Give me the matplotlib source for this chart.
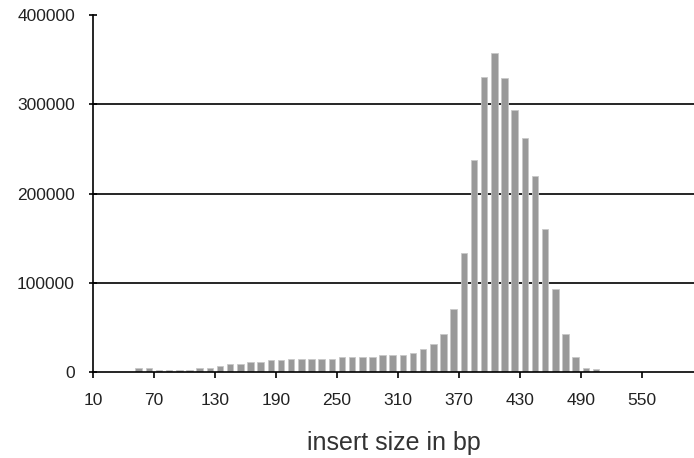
import numpy as np
import matplotlib
matplotlib.use('Agg')
import matplotlib.pyplot as plt

plt.rcParams['font.family'] = ['Liberation Sans', 'DejaVu Sans']

# insert size bins (bp) and read counts
bins = list(range(10, 600, 10))
counts = [0, 0, 0, 0, 4500, 4500, 2700, 2700, 2700, 2700,
          4500, 4500, 7000, 9300, 9300, 11200, 11200, 13000, 13000, 14900,
          14900, 14900, 14900, 14900, 17100, 17100, 17100, 17100, 19400, 19400,
          18700, 21000, 25400, 31000, 42900, 70900, 133000, 237500, 331000, 357000,
          329000, 293500, 262000, 220000, 160000, 92500, 42700, 17000, 5000, 3000,
          0, 0, 0, 0, 0, 0, 0, 0, 0]
xticks = [10, 70, 130, 190, 250, 310, 370, 430, 490, 550]
yticks = [0, 100000, 200000, 300000, 400000]

fig = plt.figure(figsize=(6.94, 4.58), dpi=100)
ax = fig.add_axes([93 / 694, 86 / 458, 1 - 93 / 694, 357 / 458])

# bars sit in the middle of each 10 bp category
ax.bar(np.array(bins) + 5, counts, width=6.4, color='#999999',
       edgecolor='#c8c8c8', linewidth=0.6, zorder=3)

for y in yticks[1:-1]:
    ax.axhline(y, color='black', linewidth=1.2, zorder=2)

ax.set_xlim(10, 601.5)
ax.set_ylim(0, 400000)
ax.set_xticks(xticks)
ax.set_yticks(yticks)
ax.set_yticklabels([str(v) for v in yticks])

for s in ['top', 'right']:
    ax.spines[s].set_visible(False)
for s in ['left', 'bottom']:
    ax.spines[s].set_linewidth(1.2)
    ax.spines[s].set_zorder(4)

ax.tick_params(axis='y', direction='inout', length=6, width=1.2, pad=10,
               labelsize=12.5, labelcolor='#222222')
ax.tick_params(axis='x', direction='out', length=4, width=1.2, pad=11,
               labelsize=12.5, labelcolor='#222222')

ax.set_xlabel('insert size in bp', fontsize=18, color='#333333', labelpad=17)

fig.savefig('out.png', dpi=100)
